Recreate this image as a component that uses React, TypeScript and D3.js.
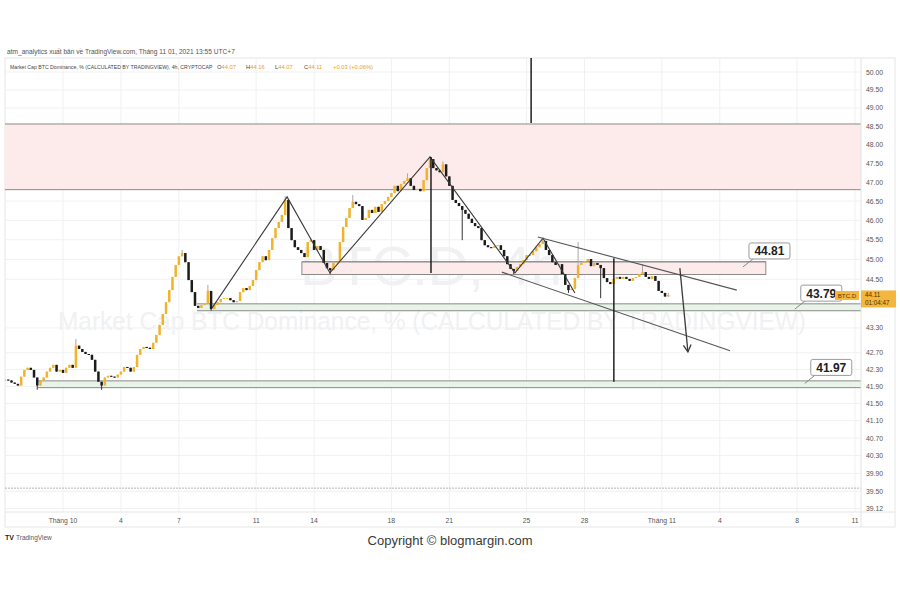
import React from 'react';
import * as d3 from 'd3';

// ---------- DATA ----------
const firstOpen = 42.04;
const closes: number[] = [
  42.06, 42.04, 41.99, 41.96, 41.92, 42.13, 42.29, 42.34, 42.29, 42.11,
  41.92, 42.04, 42.11, 42.25, 42.34, 42.41, 42.25, 42.29, 42.22, 42.34,
  42.41, 42.34, 42.87, 42.79, 42.72, 42.67, 42.65, 42.53, 42.25, 42.01,
  41.92, 42.11, 42.15, 42.13, 42.11, 42.18, 42.25, 42.36, 42.34, 42.25,
  42.36, 42.65, 42.79, 42.84, 42.82, 42.79, 42.94, 43.13, 43.37, 43.64,
  43.93, 44.23, 44.56, 44.86, 45.08, 45.16, 44.93, 44.48, 44.18, 43.84,
  43.79, 43.86, 43.91, 44.21, 43.76, 43.86, 43.93, 44.01, 44.03, 44.03,
  43.98, 43.93, 43.96, 44.18, 44.28, 44.23, 44.33, 44.48, 44.73, 44.93,
  45.08, 44.98, 45.24, 45.54, 45.80, 45.96, 46.14, 46.53, 45.80, 45.49,
  45.31, 45.24, 45.16, 45.06, 45.44, 45.49, 45.24, 45.34, 45.24, 44.91,
  44.78, 44.73, 44.91, 44.93, 45.44, 45.83, 46.06, 46.32, 46.48, 46.42,
  46.37, 46.01, 46.06, 46.27, 46.19, 46.35, 46.22, 46.42, 46.50, 46.61,
  46.71, 46.90, 46.76, 46.95, 47.03, 47.10, 46.90, 46.79, 46.82, 46.76,
  47.05, 47.37, 47.61, 47.37, 47.31, 47.26, 47.47, 47.15, 46.90, 46.53,
  46.45, 46.37, 46.27, 46.17, 46.04, 45.93, 45.85, 45.80, 45.49, 45.36,
  45.31, 45.29, 45.34, 45.36, 45.24, 45.08, 44.88, 44.76, 44.71, 44.81,
  44.88, 44.98, 45.11, 45.11, 45.21, 45.31, 45.39, 45.47, 45.24, 45.11,
  44.93, 44.86, 44.88, 44.63, 44.36, 44.23, 44.26, 44.53, 44.86, 44.91,
  44.96, 45.01, 44.83, 44.91, 44.86, 44.78, 44.53, 44.43, 44.38, 44.51,
  44.56, 44.51, 44.56, 44.51, 44.46, 44.53, 44.56, 44.63, 44.68, 44.56,
  44.51, 44.58, 44.46, 44.21, 44.16, 44.07, 44.11,
];
// notable wicks: [candle index, price]
const wickHighs: [number, number][] = [
  [22, 43.03], [55, 45.24], [63, 44.36], [87, 46.63], [95, 45.54], [108, 46.66],
  [125, 47.23], [132, 47.69], [136, 47.55], [167, 45.54], [178, 45.44], [198, 44.88], [206, 44.16],
];
const wickLows: [number, number][] = [
  [10, 41.82], [30, 41.82], [64, 43.72], [101, 44.63], [142, 45.49], [158, 44.63],
  [175, 44.16], [185, 44.03], [206, 44.07],
];

const yTicks = [50, 49.5, 49, 48.5, 48, 47.5, 47, 46.5, 46, 45.5, 45, 44.5, 43.3, 42.7, 42.3, 41.9, 41.5, 41.1, 40.7, 40.3, 39.9, 39.5, 39.12];
const xTickDates = ['2021-10-01', '2021-10-04', '2021-10-07', '2021-10-11', '2021-10-14', '2021-10-18', '2021-10-21', '2021-10-25', '2021-10-28', '2021-11-01', '2021-11-04', '2021-11-08', '2021-11-11'];
const xTickLabels = ['Tháng 10', '4', '7', '11', '14', '18', '21', '25', '28', 'Tháng 11', '4', '8', '11'];
const ohlcKeys = ['O', 'H', 'L', 'C'];
const ohlcValues = ['44.07', '44.16', '44.07', '44.11'];
const changeText = '+0.03 (+0.06%)';

// annotations in (candle index, price)
const zigzag: [number, number][] = [[64.3, 43.79], [87.6, 46.61], [100.9, 44.66], [132, 47.67], [158.4, 44.66], [167.1, 45.54], [177, 44.16]];
const channelUpper: [number, number][] = [[165.5, 45.57], [227.3, 44.23]];
const channelLower: [number, number][] = [[154.3, 44.68], [225.2, 42.75]];
const arrowLine: [number, number][] = [[209.6, 44.78], [212.1, 42.72]];
const verticals: [number, number, number][] = [[132.3, 47.67, 44.66], [163.4, 50.45, 48.59], [189.1, 45.03, 42.01]];
const zones = [
  { i0: -3, i1: 268, top: 48.56, bottom: 46.8, fill: '#fdeaea', box: false },
  { i0: 92.2, i1: 236.3, top: 44.94, bottom: 44.62, fill: '#fdeaea', box: true },
  { i0: 59.6, i1: 268, top: 43.89, bottom: 43.72, fill: '#e9f4e9', box: false },
  { i0: 10.2, i1: 268, top: 42.03, bottom: 41.87, fill: '#e9f4e9', box: false },
];
const callouts = [
  { i: 229.2, p: 44.81, label: '44.81' },
  { i: 245.3, p: 43.76, label: '43.79' },
  { i: 248.4, p: 41.97, label: '41.97' },
];
const dottedLevel = 39.57;
const lastPrice = 44.11;

// ---------- LAYOUT ----------
const W = 900, H = 600;
const PL = 5, PR = 861, PT = 58, PB = 512;
const H4 = 4 * 3600 * 1000;
const startTime = Date.UTC(2021, 8, 28);
const x = d3.scaleUtc().domain([new Date(Date.UTC(2021, 9, 1)), new Date(Date.UTC(2021, 10, 11))]).range([63, 855]);
const y = d3.scaleLog().domain([39.12, 50]).range([508.5, 72]);
const xi = (i: number) => x(new Date(startTime + i * H4));
const UP = '#f2b32a', DOWN = '#1c1c1c';
const FONT = "'Liberation Sans', Arial, sans-serif";

export default function App() {
  const candles = closes.map((c, i) => {
    const o = i === 0 ? firstOpen : closes[i - 1];
    let hi = Math.max(o, c), lo = Math.min(o, c);
    const wh = wickHighs.find((w) => w[0] === i);
    const wl = wickLows.find((w) => w[0] === i);
    if (wh) hi = Math.max(hi, wh[1]);
    if (wl) lo = Math.min(lo, wl[1]);
    return { i, o, c, hi, lo };
  });
  const line = d3.line<[number, number]>().x((d) => xi(d[0])).y((d) => y(d[1]));
  const bw = 2.5;

  // arrow head
  const a0 = [xi(arrowLine[0][0]), y(arrowLine[0][1])];
  const a1 = [xi(arrowLine[1][0]), y(arrowLine[1][1])];
  const ang = Math.atan2(a1[1] - a0[1], a1[0] - a0[0]);
  const ah = 8, aw = 0.5;
  const head = `M${a1[0] - ah * Math.cos(ang - aw)},${a1[1] - ah * Math.sin(ang - aw)}L${a1[0]},${a1[1]}L${a1[0] - ah * Math.cos(ang + aw)},${a1[1] - ah * Math.sin(ang + aw)}`;

  const tickX = xTickDates.map((d) => x(new Date(d + 'T00:00:00Z')));
  const ly = y(lastPrice);

  return (
    <div style={{ position: 'absolute', left: 0, top: 0 }}>
      <svg width={W} height={H} style={{ display: 'block', background: '#fff' }} fontFamily={FONT}>
        <defs>
          <clipPath id="plot"><rect x={PL} y={PT} width={PR - PL} height={PB - PT} /></clipPath>
        </defs>
        {/* header */}
        <text x={7} y={54} fontSize={6.6} fill="#555">atm_analytics xuất bản về TradingView.com, Tháng 11 01, 2021 13:55 UTC+7</text>
        <rect x={PL} y={PT} width={W - 5 - PL} height={527 - PT} fill="none" stroke="#e6e6e6" strokeWidth={1} />
        {/* grid */}
        <g stroke="#f1f1f1" strokeWidth={1}>
          {yTicks.map((t) => <line key={'gy' + t} x1={PL} x2={PR} y1={y(t)} y2={y(t)} />)}
          {tickX.map((tx, k) => <line key={'gx' + k} x1={tx} x2={tx} y1={PT} y2={PB} />)}
        </g>
        {/* watermark */}
        <text x={300} y={285} fontSize={55} fill="#f0f1f3" textLength={262} lengthAdjust="spacingAndGlyphs">BTC.D, 4h</text>
        <text x={58} y={330} fontSize={26} fill="#f0f1f3" textLength={748} lengthAdjust="spacingAndGlyphs">Market Cap BTC Dominance, % (CALCULATED BY TRADINGVIEW)</text>
        <text x={10} y={69} fontSize={5.2} fill="#444">Market Cap BTC Dominance, % (CALCULATED BY TRADINGVIEW), 4h, CRYPTOCAP</text>
        {ohlcKeys.map((k, j) => (
          <text key={'ohlc' + k} x={217 + j * 29} y={69} fontSize={5.8} fill="#444">
            {k}<tspan fill="#e8a21c">{ohlcValues[j]}</tspan>
          </text>
        ))}
        <text x={333} y={69} fontSize={5.8} fill="#e8a21c">{changeText}</text>
        <g clipPath="url(#plot)">
          {/* zones */}
          {zones.map((z, k) => {
            const x0 = xi(z.i0), x1 = xi(z.i1), y0 = y(z.top), y1 = y(z.bottom);
            return (
              <g key={'z' + k}>
                <rect x={x0} y={y0} width={x1 - x0} height={y1 - y0} fill={z.fill} stroke={z.box ? '#8a8a8a' : 'none'} strokeWidth={1} />
                <line x1={x0} x2={x1} y1={y0} y2={y0} stroke="#8a8a8a" strokeWidth={1} />
                <line x1={x0} x2={x1} y1={y1} y2={y1} stroke="#8a8a8a" strokeWidth={1} />
              </g>
            );
          })}
          {/* dotted level */}
          <line x1={PL} x2={PR} y1={y(dottedLevel)} y2={y(dottedLevel)} stroke="#b5b5b5" strokeWidth={1} strokeDasharray="2,1" />
          {/* candles */}
          {candles.map((d) => {
            const cx = xi(d.i);
            const up = d.c >= d.o;
            const yt = y(Math.max(d.o, d.c)), yb = y(Math.min(d.o, d.c));
            return (
              <g key={'c' + d.i}>
                <line x1={cx} x2={cx} y1={y(d.hi)} y2={y(d.lo)} stroke={up ? '#a8a8a8' : '#333'} strokeWidth={1} />
                <rect x={cx - bw / 2} y={yt} width={bw} height={Math.max(1, yb - yt)} fill={up ? UP : DOWN} />
              </g>
            );
          })}
          {/* annotations */}
          <g fill="none" stroke="#3a3a3a" strokeWidth={1.1}>
            <path d={line(zigzag) || ''} />
            <path d={line(channelUpper) || ''} stroke="#555" />
            <path d={line(channelLower) || ''} stroke="#555" />
            <path d={line(arrowLine) || ''} strokeWidth={1.3} />
            <path d={head} strokeWidth={1.3} />
            {verticals.map((v, k) => (
              <line key={'v' + k} x1={xi(v[0])} x2={xi(v[0])} y1={y(v[1])} y2={y(v[2])} stroke="#111" strokeWidth={1.4} />
            ))}
          </g>
        </g>
        {/* callouts */}
        {callouts.map((c, k) => {
          const ax = xi(c.i), ay = y(c.p);
          const bx = ax + 6, bby = ay - 8, bwid = 41, bh = 16;
          return (
            <g key={'co' + k}>
              <line x1={ax} y1={ay} x2={bx + 4} y2={bby} stroke="#888" strokeWidth={1} />
              <rect x={bx} y={bby - bh} width={bwid} height={bh} rx={2} fill="#fff" stroke="#9a9a9a" strokeWidth={1} />
              <text x={bx + bwid / 2} y={bby - bh / 2 + 0.5} textAnchor="middle" dominantBaseline="central" fontSize={12} fontWeight="bold" fill="#222">{c.label}</text>
            </g>
          );
        })}
        {/* right axis */}
        <line x1={PR} x2={PR} y1={PT} y2={527} stroke="#e3e3e3" />
        {yTicks.map((t) => (
          <text key={'yt' + t} x={866} y={y(t)} dominantBaseline="central" fontSize={6.8} fill="#555">{t.toFixed(2)}</text>
        ))}
        {/* last price labels */}
        <rect x={835} y={ly - 4} width={24} height={9} fill="#f4b63f" />
        <text x={847} y={ly + 0.5} textAnchor="middle" dominantBaseline="central" fontSize={6.2} fill="#5a3e00">BTC.D</text>
        <rect x={PR} y={ly - 4.5} width={35} height={17} fill="#f4b63f" />
        <text x={865} y={ly} dominantBaseline="central" fontSize={6.3} fill="#4a3300">44.11</text>
        <text x={865} y={ly + 8} dominantBaseline="central" fontSize={6.3} fill="#4a3300">01:04:47</text>
        {/* bottom axis */}
        <line x1={PL} x2={W - 5} y1={PB} y2={PB} stroke="#e6e6e6" />
        {tickX.map((tx, k) => (
          <text key={'xt' + k} x={tx} y={520} textAnchor="middle" dominantBaseline="central" fontSize={6.8} fill="#555">{xTickLabels[k]}</text>
        ))}
        {/* footer */}
        <text x={5} y={540} fontSize={7} fontWeight="bold" fill="#222">TV</text>
        <text x={16} y={540} fontSize={6.5} fill="#555">TradingView</text>
        <text x={450} y={545} textAnchor="middle" fontSize={13} fill="#3a3a3a">Copyright © blogmargin.com</text>
      </svg>
    </div>
  );
}
